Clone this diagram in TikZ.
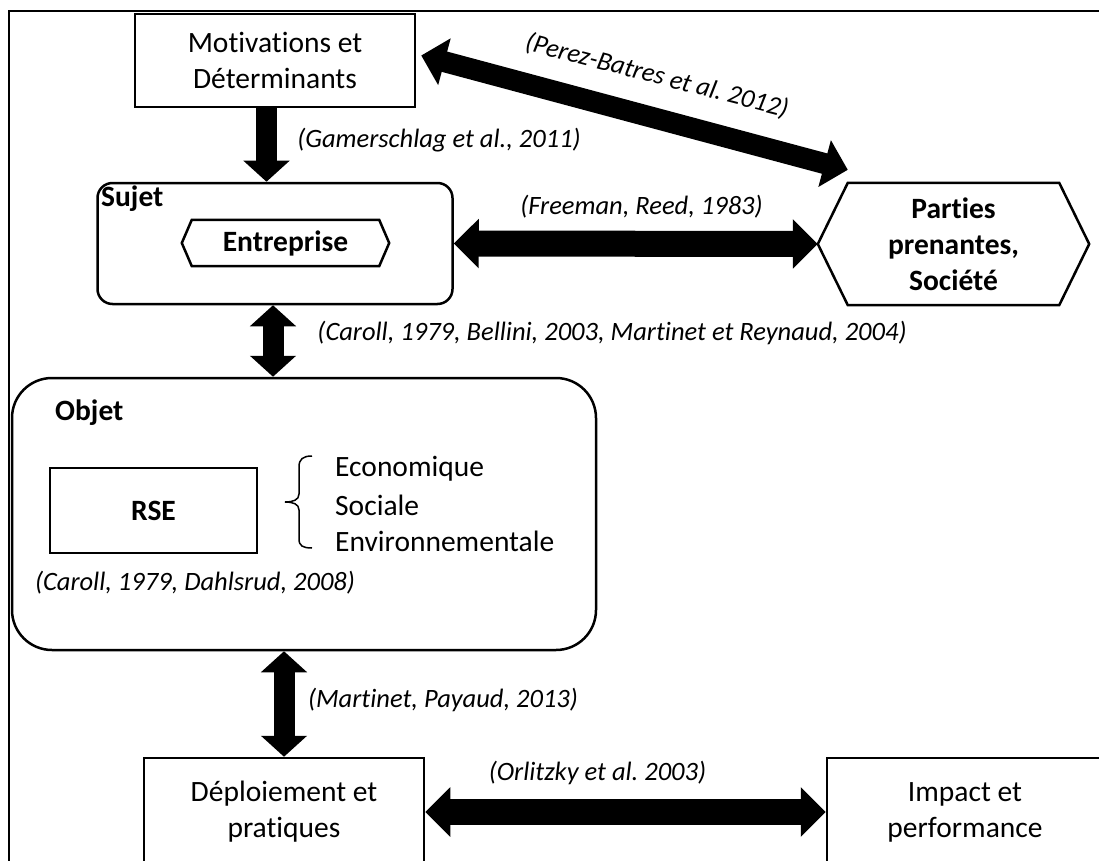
\documentclass[tikz,border=0pt]{standalone}
\usepackage{fontspec}
\setmainfont{Carlito}[Ligatures=NoCommon]
\usetikzlibrary{arrows.meta,calc}
\frenchspacing
\begin{document}
\begin{tikzpicture}[x=1pt,y=-1pt,
  box/.style={draw,line width=2.5pt,inner sep=0pt,align=center},
  ghost/.style={inner sep=0pt,align=center},
  main/.style={font=\fontsize{29.5}{36}\selectfont},
  bmain/.style={font=\fontsize{29.5}{36}\selectfont\bfseries},
  cite/.style={font=\fontsize{26.5}{32}\selectfont\itshape,inner sep=0pt},
  bigarrow/.style={line width=21pt,{Triangle[length=21pt,width=45pt]}-{Triangle[length=21pt,width=45pt]}},
  bigarrowone/.style={line width=21pt,-{Triangle[length=21pt,width=45pt]}},
  widearrow/.style={line width=26pt,{Triangle[length=25pt,width=48pt]}-{Triangle[length=25pt,width=48pt]}},
  hexline/.style={line width=2.5pt,line join=miter}
]
\useasboundingbox (0,0) rectangle (1099,861);
\clip (0,0) rectangle (1099,861);
\fill[white] (0,0) rectangle (1099,861);
% outer frame (its right and bottom sides lie outside the picture)
\draw[line width=2pt] (9,880) -- (9,11) -- (1110,11);

% nodes
\node[box,main,minimum width=280pt,minimum height=93pt] (mot) at (275,60.5) {Motivations et\\Déterminants};
\node[box,rounded corners=15pt,minimum width=355pt,minimum height=121pt] (sujet) at (275,243.5) {};
\node[bmain,ghost,anchor=west] (sujetlbl) at (101,199) {Sujet};
\node[bmain,ghost,minimum width=207pt,minimum height=46pt] (ent) at (285.5,243) {Entreprise};
\node[bmain,ghost,minimum width=271pt,minimum height=122pt] (parties) at (953.5,244) {Parties\\prenantes,\\Société};
\node[box,rounded corners=40pt,minimum width=584pt,minimum height=272pt] (objet) at (304,514) {};
\node[bmain,ghost,anchor=west] (objetlbl) at (55,413) {Objet};
\node[box,bmain,minimum width=207pt,minimum height=85pt] (rse) at (153.5,510.5) {RSE};
\node[main,ghost,anchor=west] (eco) at (335,469) {Economique};
\node[main,ghost,anchor=west] (soc) at (335,505) {Sociale};
\node[main,ghost,anchor=west] (env) at (335,541) {Environnementale};
\node[box,main,minimum width=280pt,minimum height=108pt] (depl) at (284,812) {Déploiement et\\pratiques};
\node[box,main,minimum width=276pt,minimum height=108pt] (impact) at (965,812) {Impact et\\performance};

% hexagons
\draw[hexline] (ent.west) -- ([xshift=10pt]ent.north west) -- ([xshift=-10pt]ent.north east) -- (ent.east) -- ([xshift=-10pt]ent.south east) -- ([xshift=10pt]ent.south west) -- cycle;
\draw[hexline] (parties.west) -- ([xshift=30pt]parties.north west) -- ([xshift=-30pt]parties.north east) -- (parties.east) -- ([xshift=-30pt]parties.south east) -- ([xshift=30pt]parties.south west) -- cycle;

% brace
\draw[line width=1.5pt] (312,456) .. controls (303,456) and (299,459) .. (299,467) -- (299,494) .. controls (299,500) and (293,502) .. (285,502) .. controls (293,502) and (299,504) .. (299,510) -- (299,539) .. controls (299,546) and (303,548) .. (312,548);

% arrows
\draw[bigarrowone] ([xshift=-8.5pt]mot.south) -- ([xshift=-8.5pt]sujet.north);
\draw[line width=21pt,{Triangle[length=24pt,width=47pt]}-{Triangle[length=24pt,width=47pt]}] ([xshift=5pt,yshift=5pt]mot.east) -- ([xshift=30pt,yshift=13pt]parties.north west);
\draw[widearrow] (sujet.east) -- (parties.west);
\draw[bigarrow] ([xshift=-2pt]sujet.south) -- ([xshift=-2pt]sujet.south |- objet.north);
\draw[bigarrow] (depl.north |- objet.south) -- (depl.north);
\draw[widearrow] (depl.east) -- (impact.west);

% citations
\node[cite] (c1) at (439,140) {(Gamerschlag et al., 2011)};
\node[cite,rotate=-14.5] (c2) at (657,76) {(Perez-Batres et al. 2012)};
\node[cite] (c3) at (641.5,207) {(Freeman, Reed, 1983)};
\node[cite] (c4) at (612,333) {(Caroll, 1979, Bellini, 2003, Martinet et Reynaud, 2004)};
\node[cite] (c5) at (195,583) {(Caroll, 1979, Dahlsrud, 2008)};
\node[cite] (c6) at (443,700) {(Martinet, Payaud, 2013)};
\node[cite] (c7) at (597.5,773) {(Orlitzky et al. 2003)};
\end{tikzpicture}
\end{document}
